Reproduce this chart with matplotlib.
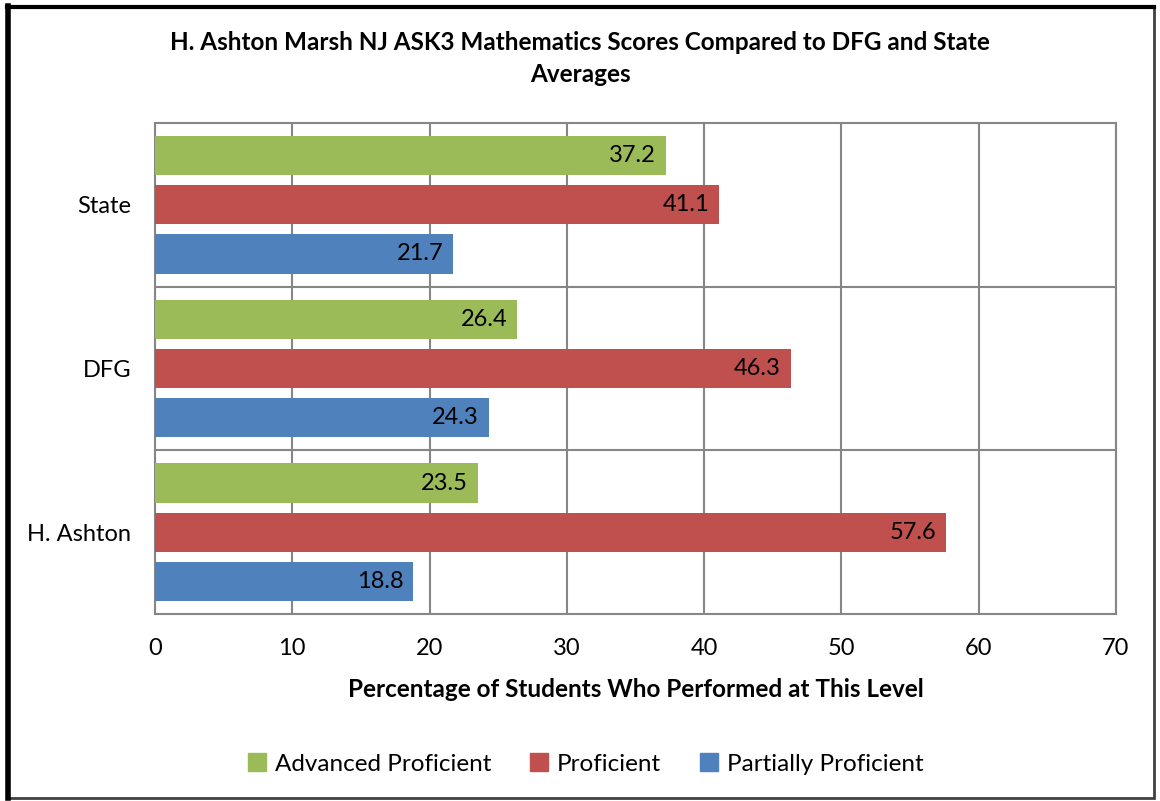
import numpy as np
import matplotlib
matplotlib.use("Agg")
import matplotlib.pyplot as plt
from matplotlib.patches import Rectangle
from matplotlib.lines import Line2D

plt.rcParams["font.family"] = ["Lato", "DejaVu Sans"]

schools = ["H. Ashton", "DFG", "State"]
series = ["Advanced Proficient", "Proficient", "Partially Proficient"]
advanced = [23.5, 26.4, 37.2]
proficient = [57.6, 46.3, 41.1]
partial = [18.8, 24.3, 21.7]
colors = ["#9BBB59", "#C0504D", "#4F81BD"]

fig = plt.figure(figsize=(11.6, 8.01), dpi=100)
ax = fig.add_axes([0.1336, 0.2335, 0.8284, 0.6129])

y = np.arange(len(schools))
offsets = [0.30, 0.0, -0.30]
for vals, off, col, name in zip([advanced, proficient, partial], offsets, colors, series):
    bars = ax.barh(y + off, vals, height=0.24, color=col, label=name, zorder=3)
    for b, v in zip(bars, vals):
        ax.text(b.get_width() - 0.7, b.get_y() + b.get_height() / 2, f"{v:.1f}",
                ha="right", va="center", fontsize=17, color="black", zorder=4)

ax.set_xlim(0, 70)
ax.set_ylim(-0.5, 2.5)
ax.set_xticks(range(0, 71, 10))
ax.set_yticks(y)
ax.set_yticklabels(schools)
ax.set_yticks([0.5, 1.5], minor=True)
ax.tick_params(axis="both", which="both", length=0, labelsize=17)
ax.tick_params(axis="x", pad=17)
ax.tick_params(axis="y", pad=17)
ax.grid(axis="x", color="#868686", linewidth=1.5, zorder=0)
ax.grid(axis="y", which="minor", color="#868686", linewidth=1.5, zorder=0)
for s in ax.spines.values():
    s.set_color("#868686")
    s.set_linewidth(1.5)

ax.set_xlabel("Percentage of Students Who Performed at This Level",
              fontsize=17.5, fontweight="bold", labelpad=14)
fig.text(0.5, 0.927, "H. Ashton Marsh NJ ASK3 Mathematics Scores Compared to DFG and State\nAverages",
         ha="center", va="center", fontsize=17.5, fontweight="bold", linespacing=1.45)

handles = [Rectangle((0, 0), 1, 1, color=c) for c in colors]
fig.legend(handles, series, loc="center", bbox_to_anchor=(0.505, 0.046), ncol=3,
           frameon=False, fontsize=17.5, handlelength=0.75, handleheight=0.75,
           handletextpad=0.35, columnspacing=1.6)

# outer frame
fig.add_artist(Rectangle((0.006, 0.004), 0.989, 0.988, transform=fig.transFigure,
                         fill=False, edgecolor="#404040", linewidth=2))
fig.add_artist(Line2D([0.0065, 0.0065], [0.004, 0.992], transform=fig.transFigure,
                      color="black", linewidth=4))
fig.add_artist(Line2D([0.006, 0.995], [0.991, 0.991], transform=fig.transFigure,
                      color="black", linewidth=3))

fig.savefig("out.png", dpi=100)
